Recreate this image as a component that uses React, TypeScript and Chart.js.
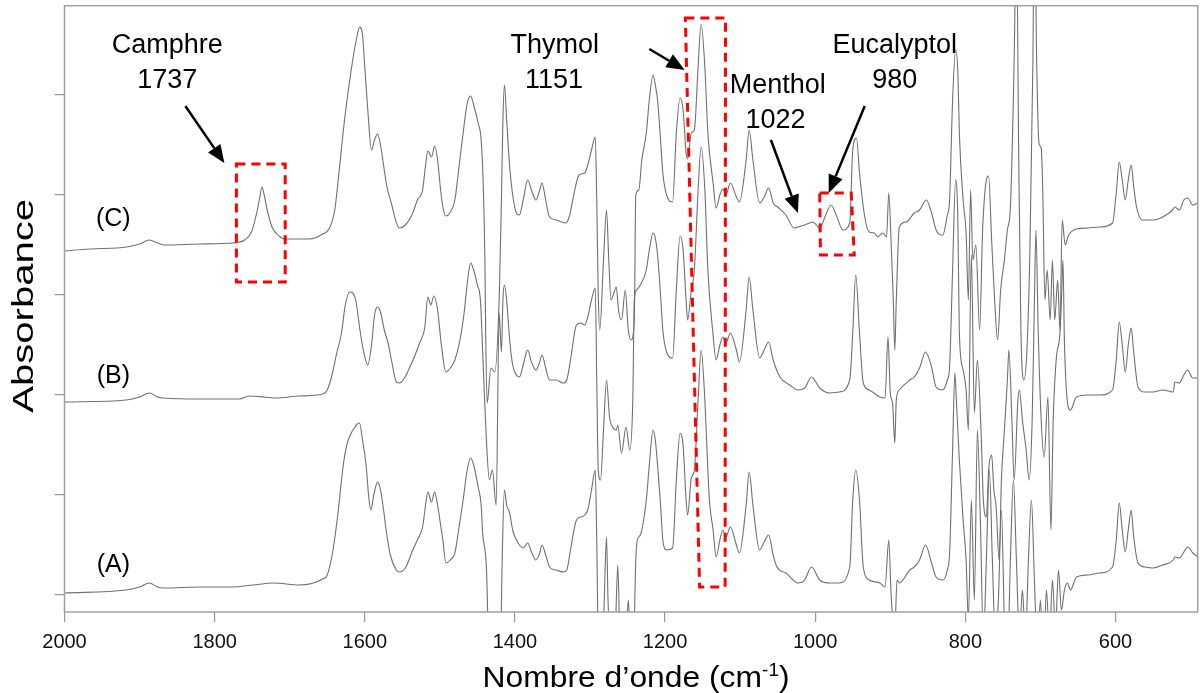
import React, { useEffect, useRef } from "react";
import { Chart, registerables } from "chart.js";

Chart.register(...registerables);

const FONT = '"Liberation Sans", Arial, Helvetica, sans-serif';

// Wavenumber axis (cm-1) tick values
const xTickValues = [2000, 1800, 1600, 1400, 1200, 1000, 800, 600];
// Absorbance axis tick positions (no labels in the reference)
const yTickValues = [0, 1, 2, 3, 4, 5];

// Spectrum (A): [wavenumber, absorbance (a.u., stacked)]
const spectrumA: [number, number][] = [
  [2000, 0.02], [1918, 0.05], [1900, 0.08], [1887, 0.12], [1876, 0.08], [1869, 0.07], [1820, 0.08], [1776, 0.08],
  [1749, 0.1], [1722, 0.12], [1687, 0.1], [1656, 0.16], [1650, 0.2], [1643, 0.42], [1636, 0.8], [1629, 1.28],
  [1624, 1.5], [1618, 1.62], [1614, 1.67], [1610, 1.71], [1607, 1.72], [1603, 1.55], [1598, 1.28], [1595, 1.0],
  [1592, 0.85], [1588, 1.0], [1583, 1.13], [1579, 1.05], [1575, 0.85], [1571, 0.62], [1566, 0.4], [1558, 0.25],
  [1554, 0.23], [1546, 0.27], [1536, 0.45], [1530, 0.55], [1523, 0.68], [1519, 0.9], [1516, 1.03], [1511, 0.93],
  [1507, 1.03], [1503, 0.9], [1499, 0.7], [1496, 0.55], [1492, 0.32], [1486, 0.35], [1480, 0.42], [1475, 0.65],
  [1469, 0.95], [1464, 1.23], [1459, 1.37], [1455, 1.3], [1449, 1.08], [1445, 0.9], [1443, 0.62], [1438, 0.28],
  [1435, -0.45], [1427, -0.65], [1419, -0.45], [1417, 0.35], [1414, 1.05], [1411, 0.9], [1407, 0.82], [1403, 0.65],
  [1398, 0.55], [1394, 0.5], [1389, 0.47], [1383, 0.52], [1378, 0.43], [1372, 0.35], [1367, 0.42], [1364, 0.5],
  [1359, 0.4], [1354, 0.28], [1345, 0.25], [1336, 0.23], [1331, 0.25], [1326, 0.45], [1318, 0.75], [1312, 0.78],
  [1307, 0.8], [1303, 0.85], [1298, 1.05], [1293, 1.25], [1291, 0.55], [1289, -0.45], [1283, -0.55], [1281, -0.05],
  [1278, 0.58], [1276, -0.05], [1273, -0.45], [1267, -0.45], [1263, 0.3], [1260, -0.45], [1253, -0.55], [1249, -0.05],
  [1246, -0.45], [1242, -0.45], [1239, 0.35], [1237, 0.55], [1233, 0.6], [1225, 0.95], [1221, 1.3], [1216, 1.65],
  [1213, 1.55], [1210, 1.3], [1206, 0.9], [1203, 0.55], [1198, 0.45], [1190, 0.47], [1185, 1.15], [1180, 1.62],
  [1176, 1.5], [1172, 0.95], [1170, 0.8], [1165, 1.17], [1161, 1.25], [1156, 1.95], [1152, 2.45], [1147, 1.95],
  [1143, 1.25], [1141, 0.95], [1136, 0.65], [1132, 0.38], [1127, 0.55], [1123, 0.65], [1119, 0.58], [1113, 0.68],
  [1105, 0.5], [1101, 0.42], [1092, 0.9], [1088, 1.23], [1083, 0.9], [1074, 0.45], [1068, 0.53], [1062, 0.6],
  [1056, 0.4], [1051, 0.28], [1039, 0.22], [1023, 0.12], [1014, 0.15], [1005, 0.28], [994, 0.15], [981, 0.12],
  [968, 0.12], [954, 0.28], [950, 0.95], [946, 1.25], [941, 0.95], [936, 0.28], [928, 0.15], [914, 0.12],
  [907, 0.08], [902, 0.55], [899, 0.02], [896, -0.3], [894, -0.35], [891, 0.15], [888, 0.12], [874, 0.25],
  [868, 0.28], [861, 0.35], [853, 0.5], [845, 0.32], [839, 0.18], [830, 0.15], [824, 0.25], [821, 0.42],
  [817, 1.45], [814, 2.22], [812, 1.95], [808, 1.35], [803, 0.75], [799, 0.35], [796, -0.25], [792, 0.95],
  [788, -0.05], [784, 1.65], [780, 0.75], [776, -0.45], [772, 0.35], [768, 1.25], [764, 0.35], [760, -0.45],
  [756, -0.05], [752, 0.85], [748, -0.25], [744, -0.65], [740, 0.35], [736, 1.15], [732, 0.35], [728, -0.45],
  [724, 0.05], [720, -0.45], [716, 0.35], [712, 0.95], [708, 0.15], [704, -0.55], [700, -0.05], [696, -0.65],
  [692, 0.05], [688, -0.45], [684, 0.15], [680, -0.35], [676, 0.25], [672, -0.15], [668, 0.05], [664, 0.12],
  [660, 0.05], [652, 0.18], [637, 0.2], [621, 0.22], [604, 0.28], [599, 0.55], [595, 0.92], [591, 0.65],
  [587, 0.43], [583, 0.65], [579, 0.85], [576, 0.6], [570, 0.32], [561, 0.28], [550, 0.27], [537, 0.3],
  [523, 0.35], [521, 0.38], [515, 0.37], [509, 0.43], [504, 0.48], [497, 0.42], [490, 0.38],
];

// Spectrum (B)
const spectrumB: [number, number][] = [
  [2000, 1.93], [1918, 1.95], [1900, 1.98], [1887, 2.02], [1876, 1.98], [1869, 1.97], [1820, 1.96], [1767, 1.96],
  [1754, 1.99], [1734, 1.98], [1718, 1.97], [1687, 1.99], [1656, 2.01], [1650, 2.05], [1643, 2.22], [1638, 2.4],
  [1631, 2.62], [1626, 2.9], [1620, 3.03], [1616, 3.02], [1612, 2.95], [1607, 2.68], [1602, 2.45], [1596, 2.3],
  [1591, 2.5], [1587, 2.8], [1583, 2.88], [1579, 2.83], [1574, 2.65], [1569, 2.52], [1564, 2.33], [1558, 2.13],
  [1554, 2.12], [1547, 2.17], [1540, 2.28], [1534, 2.38], [1527, 2.52], [1520, 2.68], [1516, 2.98], [1512, 2.9],
  [1508, 2.99], [1503, 2.85], [1498, 2.5], [1492, 2.23], [1486, 2.27], [1480, 2.35], [1474, 2.52], [1468, 2.8],
  [1463, 3.15], [1459, 3.32], [1455, 3.25], [1450, 3.1], [1446, 2.95], [1442, 2.25], [1438, 1.55], [1434, 1.15],
  [1430, 1.25], [1425, 0.9], [1421, 2.82], [1418, 2.43], [1416, 2.95], [1414, 3.1], [1411, 2.95], [1407, 2.55],
  [1403, 2.3], [1398, 2.2], [1394, 2.18], [1389, 2.3], [1385, 2.42], [1383, 2.45], [1378, 2.33], [1372, 2.25],
  [1367, 2.33], [1364, 2.4], [1359, 2.27], [1354, 2.15], [1345, 2.15], [1336, 2.12], [1331, 2.15], [1326, 2.35],
  [1318, 2.7], [1312, 2.72], [1307, 2.7], [1303, 2.78], [1298, 2.95], [1293, 3.07], [1291, 2.15], [1289, 1.25],
  [1286, 1.15], [1282, 1.65], [1278, 2.15], [1274, 1.78], [1270, 1.68], [1265, 1.65], [1263, 1.7], [1258, 1.42],
  [1252, 1.68], [1247, 1.45], [1243, 1.95], [1241, 2.95], [1238, 3.05], [1233, 3.1], [1225, 3.25], [1221, 3.45],
  [1216, 3.62], [1213, 3.57], [1210, 3.4], [1206, 3.0], [1203, 2.65], [1198, 2.43], [1190, 2.37], [1185, 3.05],
  [1180, 3.59], [1176, 3.45], [1172, 2.95], [1170, 2.75], [1165, 3.05], [1161, 3.25], [1156, 4.05], [1152, 4.48],
  [1147, 4.05], [1143, 3.25], [1136, 2.6], [1132, 2.35], [1127, 2.5], [1123, 2.58], [1119, 2.52], [1113, 2.62],
  [1105, 2.45], [1101, 2.33], [1092, 2.85], [1088, 3.18], [1083, 2.85], [1074, 2.37], [1068, 2.45], [1062, 2.53],
  [1056, 2.35], [1047, 2.18], [1034, 2.1], [1023, 2.05], [1014, 2.07], [1005, 2.18], [994, 2.07], [981, 2.02],
  [968, 2.03], [954, 2.15], [950, 2.62], [946, 3.2], [941, 2.62], [936, 2.12], [928, 2.05], [914, 1.98],
  [907, 1.97], [903, 2.58], [900, 2.02], [897, 1.92], [894, 1.52], [892, 1.95], [888, 2.05], [874, 2.15],
  [868, 2.18], [861, 2.27], [853, 2.43], [845, 2.28], [839, 2.08], [830, 2.05], [824, 2.15], [821, 2.28],
  [817, 3.25], [813, 4.15], [810, 3.75], [808, 2.62], [803, 2.25], [799, 2.05], [796, 1.65], [792, 3.4],
  [788, 1.82], [784, 2.35], [779, 1.62], [776, 0.95], [772, 0.78], [769, 1.25], [765, 1.4], [762, 1.05],
  [759, 0.88], [755, 0.35], [752, 1.15], [748, 1.65], [744, 2.15], [742, 2.45], [738, 1.75], [735, 1.15],
  [730, 1.95], [728, 2.05], [724, 1.75], [719, 1.45], [715, 1.15], [711, 1.75], [708, 2.95], [706, 3.65],
  [703, 2.65], [699, 1.75], [695, 1.38], [690, 1.98], [686, 0.65], [683, 1.75], [679, 2.35], [674, 2.62],
  [672, 2.95], [670, 3.35], [668, 2.52], [663, 1.88], [660, 1.85], [652, 1.98], [637, 2.0], [621, 2.0],
  [604, 2.05], [599, 2.35], [595, 2.73], [591, 2.5], [587, 2.23], [583, 2.5], [579, 2.67], [576, 2.45],
  [570, 2.08], [561, 2.03], [550, 2.03], [537, 2.05], [523, 2.03], [521, 2.13], [515, 2.12], [509, 2.2],
  [504, 2.25], [497, 2.17], [490, 2.17],
];

// Spectrum (C)
const spectrumC: [number, number][] = [
  [2000, 3.44], [1967, 3.46], [1917, 3.48], [1900, 3.51], [1887, 3.55], [1876, 3.52], [1867, 3.5], [1820, 3.51],
  [1776, 3.52], [1760, 3.55], [1751, 3.63], [1744, 3.82], [1740, 3.97], [1737, 4.08], [1734, 4.0], [1729, 3.82],
  [1723, 3.67], [1714, 3.59], [1707, 3.56], [1698, 3.56], [1674, 3.56], [1656, 3.61], [1647, 3.67], [1640, 3.85],
  [1634, 4.25], [1627, 4.75], [1620, 5.15], [1615, 5.4], [1610, 5.6], [1607, 5.68], [1603, 5.6], [1600, 5.28],
  [1596, 4.85], [1591, 4.45], [1587, 4.55], [1583, 4.61], [1579, 4.5], [1575, 4.3], [1571, 4.1], [1564, 3.9],
  [1559, 3.75], [1554, 3.67], [1546, 3.7], [1536, 3.82], [1530, 3.95], [1523, 4.05], [1519, 4.3], [1516, 4.44],
  [1511, 4.38], [1507, 4.49], [1503, 4.35], [1499, 4.05], [1496, 3.88], [1492, 3.79], [1486, 3.83], [1480, 3.95],
  [1475, 4.25], [1469, 4.62], [1464, 4.9], [1459, 4.99], [1455, 4.9], [1449, 4.72], [1445, 4.55], [1442, 4.05],
  [1440, 3.35], [1439, 2.65], [1437, 1.92], [1432, 2.27], [1427, 2.23], [1421, 2.95], [1418, 3.95], [1416, 4.75],
  [1414, 5.1], [1411, 4.75], [1407, 4.28], [1403, 4.0], [1398, 3.82], [1394, 3.8], [1389, 3.95], [1383, 4.15],
  [1378, 4.05], [1372, 3.95], [1367, 4.05], [1364, 4.12], [1359, 3.95], [1354, 3.78], [1345, 3.75], [1332, 3.72],
  [1327, 3.8], [1323, 3.95], [1316, 4.18], [1312, 4.21], [1307, 4.22], [1303, 4.3], [1298, 4.45], [1293, 4.58],
  [1291, 3.95], [1289, 3.0], [1287, 2.65], [1282, 3.35], [1278, 3.85], [1275, 3.35], [1272, 2.95], [1269, 3.0],
  [1265, 3.08], [1262, 2.85], [1258, 2.75], [1253, 3.05], [1249, 2.65], [1245, 2.55], [1241, 2.75], [1239, 4.0],
  [1235, 4.05], [1231, 4.35], [1225, 4.62], [1221, 4.95], [1216, 5.2], [1213, 5.1], [1210, 4.95], [1206, 4.55],
  [1203, 4.22], [1198, 4.0], [1190, 3.93], [1185, 4.62], [1180, 4.97], [1176, 4.85], [1172, 4.42], [1170, 4.36],
  [1165, 4.62], [1161, 4.65], [1156, 5.28], [1152, 5.71], [1147, 5.28], [1143, 4.62], [1136, 4.12], [1132, 3.87],
  [1127, 4.0], [1123, 4.06], [1119, 4.0], [1113, 4.12], [1105, 3.98], [1101, 3.93], [1092, 4.35], [1088, 4.65],
  [1083, 4.35], [1074, 3.92], [1068, 3.98], [1062, 4.07], [1056, 3.92], [1050, 3.88], [1039, 3.8], [1028, 3.67],
  [1023, 3.68], [1014, 3.7], [1003, 3.73], [994, 3.67], [986, 3.8], [979, 3.9], [972, 3.8], [963, 3.65],
  [954, 3.72], [950, 4.45], [945, 4.57], [941, 4.22], [934, 3.78], [928, 3.63], [921, 3.62], [917, 3.58],
  [910, 3.62], [905, 3.58], [902, 4.02], [899, 3.55], [896, 2.95], [894, 2.45], [892, 2.95], [888, 3.68],
  [879, 3.73], [868, 3.82], [861, 3.85], [852, 3.95], [845, 3.82], [839, 3.65], [830, 3.6], [824, 3.8],
  [821, 3.95], [817, 4.95], [813, 5.45], [810, 5.23], [808, 4.62], [803, 3.95], [799, 3.62], [796, 2.95],
  [793, 4.05], [790, 3.35], [786, 3.5], [781, 2.65], [777, 3.65], [772, 4.15], [769, 4.19], [765, 3.55],
  [761, 2.95], [757, 2.55], [753, 3.05], [748, 3.35], [744, 3.65], [740, 3.88], [735, 5.35], [732, 6.75],
  [729, 4.45], [726, 2.65], [722, 2.15], [718, 2.45], [714, 3.45], [710, 5.35], [708, 6.95], [705, 5.35],
  [702, 4.52], [699, 4.47], [697, 4.08], [694, 2.95], [691, 3.25], [687, 2.75], [684, 3.35], [681, 2.75],
  [677, 3.15], [674, 2.65], [671, 3.75], [667, 3.5], [663, 3.59], [652, 3.66], [637, 3.67], [621, 3.68],
  [604, 3.72], [599, 4.02], [595, 4.33], [591, 4.15], [587, 3.95], [583, 4.15], [579, 4.3], [576, 4.1],
  [572, 3.88], [564, 3.75], [550, 3.75], [537, 3.78], [524, 3.85], [521, 3.88], [515, 3.85], [509, 3.95],
  [504, 3.97], [497, 3.9], [490, 3.92],
];

const spectra = [spectrumA, spectrumB, spectrumC];
const spectrumNames = ["(A)", "(B)", "(C)"];

// Annotation geometry in data coordinates [wavenumber, absorbance]
const seriesLabelPos: [number, number][] = [[1935, 0.23], [1935, 2.12], [1935, 3.69]];
const compoundLabels: { text: string; at: [number, number] }[] = [
  { text: "Camphre", at: [1863, 5.42] },
  { text: "1737", at: [1863, 5.07] },
  { text: "Thymol", at: [1347, 5.42] },
  { text: "1151", at: [1348, 5.07] },
  { text: "Menthol", at: [1050, 5.02] },
  { text: "1022", at: [1053, 4.67] },
  { text: "Eucalyptol", at: [894, 5.42] },
  { text: "980", at: [894, 5.07] },
];
const arrows: [[number, number], [number, number]][] = [
  [[1839, 4.89], [1787, 4.32]],
  [[1221, 5.46], [1174, 5.25]],
  [[1059, 4.55], [1023, 3.82]],
  [[934, 4.89], [982, 4.02]],
];
const dashedBoxes: [number, number][][] = [
  [[1771, 4.31], [1706, 4.31], [1706, 3.13], [1771, 3.13]],
  [[1173, 5.77], [1119.5, 5.77], [1120, 0.08], [1154, 0.08]],
  [[994, 4.02], [952, 4.02], [948, 3.4], [993, 3.4]],
];

const annotationPlugin = {
  id: "spectrumAnnotations",
  afterDatasetsDraw(chart: any) {
    const { ctx, chartArea, scales } = chart;
    const X = (v: number) => scales.x.getPixelForValue(v);
    const Y = (v: number) => scales.y.getPixelForValue(v);
    ctx.save();
    // frame
    ctx.strokeStyle = "#a0a0a0";
    ctx.lineWidth = 1.5;
    ctx.setLineDash([]);
    ctx.strokeRect(chartArea.left, chartArea.top, chartArea.right - chartArea.left, chartArea.bottom - chartArea.top);

    // red dashed boxes
    ctx.strokeStyle = "#ff0000";
    ctx.lineWidth = 3;
    ctx.setLineDash([9, 6]);
    dashedBoxes.forEach((poly) => {
      ctx.beginPath();
      poly.forEach(([w, a], i) => (i === 0 ? ctx.moveTo(X(w), Y(a)) : ctx.lineTo(X(w), Y(a))));
      ctx.closePath();
      ctx.stroke();
    });
    ctx.setLineDash([]);

    // arrows
    ctx.strokeStyle = "#000";
    ctx.fillStyle = "#000";
    arrows.forEach(([from, to]) => {
      const x1 = X(from[0]), y1 = Y(from[1]), x2 = X(to[0]), y2 = Y(to[1]);
      const ang = Math.atan2(y2 - y1, x2 - x1);
      const L = 18, W = 7.5;
      const bx = x2 - L * Math.cos(ang), by = y2 - L * Math.sin(ang);
      ctx.lineWidth = 2.5;
      ctx.beginPath();
      ctx.moveTo(x1, y1);
      ctx.lineTo(bx, by);
      ctx.stroke();
      ctx.beginPath();
      ctx.moveTo(x2, y2);
      ctx.lineTo(bx + W * Math.sin(ang), by - W * Math.cos(ang));
      ctx.lineTo(bx - W * Math.sin(ang), by + W * Math.cos(ang));
      ctx.closePath();
      ctx.fill();
    });

    // texts
    ctx.textAlign = "center";
    ctx.textBaseline = "alphabetic";
    ctx.font = `27px ${FONT}`;
    compoundLabels.forEach(({ text, at }) => ctx.fillText(text, X(at[0]), Y(at[1])));
    ctx.font = `25px ${FONT}`;
    spectrumNames.forEach((name, i) => ctx.fillText(name, X(seriesLabelPos[i][0]), Y(seriesLabelPos[i][1])));
    ctx.restore();
  },
  afterDraw(chart: any) {
    const { ctx, chartArea } = chart;
    ctx.save();
    ctx.fillStyle = "#000";
    // y title
    ctx.translate(33, (chartArea.top + chartArea.bottom) / 2 - 3);
    ctx.rotate(-Math.PI / 2);
    ctx.font = `30px ${FONT}`;
    const yw = ctx.measureText("Absorbance").width;
    ctx.scale(214 / yw, 1);
    ctx.textAlign = "center";
    ctx.textBaseline = "alphabetic";
    ctx.fillText("Absorbance", 0, 0);
    ctx.restore();

    // x title with superscript
    ctx.save();
    ctx.fillStyle = "#000";
    ctx.textAlign = "left";
    ctx.textBaseline = "alphabetic";
    const main = "Nombre d\u2019onde (cm";
    const sup = "-1";
    const end = ")";
    ctx.font = `30px ${FONT}`;
    const w1 = ctx.measureText(main).width;
    const w3 = ctx.measureText(end).width;
    ctx.font = `18px ${FONT}`;
    const w2 = ctx.measureText(sup).width;
    const total = w1 + w2 + w3;
    const target = 307;
    const sx = target / total;
    const cx = (chartArea.left + chartArea.right) / 2 + 5;
    ctx.translate(cx - target / 2, 687);
    ctx.scale(sx, 1);
    ctx.font = `30px ${FONT}`;
    ctx.fillText(main, 0, 0);
    ctx.font = `18px ${FONT}`;
    ctx.fillText(sup, w1, -11);
    ctx.font = `30px ${FONT}`;
    ctx.fillText(end, w1 + w2, 0);
    ctx.restore();
  },
};

export default function App() {
  const canvasRef = useRef<HTMLCanvasElement | null>(null);

  useEffect(() => {
    const canvas = canvasRef.current;
    if (!canvas) return;
    const chart = new Chart(canvas, {
      type: "line",
      data: {
        datasets: spectra.map((s, i) => ({
          label: spectrumNames[i],
          data: s.map(([w, a]) => ({ x: w, y: a })),
          borderColor: "#707070",
          borderWidth: 1.1,
          pointRadius: 0,
          fill: false,
          cubicInterpolationMode: "monotone" as const,
          borderJoinStyle: "round" as const,
        })),
      },
      options: {
        animation: false,
        responsive: false,
        devicePixelRatio: 1,
        layout: { padding: { left: 0, top: 5.7, right: 2.3, bottom: 0 } },
        plugins: {
          legend: { display: false },
          tooltip: { enabled: false },
          title: { display: false },
        },
        scales: {
          x: {
            type: "linear",
            reverse: true,
            min: 490.5,
            max: 2000,
            afterBuildTicks: (s: any) => {
              s.ticks = xTickValues.map((v) => ({ value: v }));
            },
            afterFit: (s: any) => {
              s.height = 81;
            },
            ticks: {
              autoSkip: false,
              maxRotation: 0,
              padding: 8,
              color: "#111",
              font: { family: FONT, size: 20 },
              callback: (v: any) => String(v),
            },
            grid: { drawOnChartArea: false, drawTicks: true, tickLength: 10, color: "#999", lineWidth: 1.2 },
            border: { display: false },
          },
          y: {
            type: "linear",
            min: -0.17,
            max: 5.893,
            afterBuildTicks: (s: any) => {
              s.ticks = yTickValues.map((v) => ({ value: v }));
            },
            afterFit: (s: any) => {
              s.width = 64.5;
            },
            ticks: { display: false },
            grid: { drawOnChartArea: false, drawTicks: true, tickLength: 10, color: "#999", lineWidth: 1.2 },
            border: { display: false },
          },
        },
      },
      plugins: [annotationPlugin],
    } as any);
    return () => chart.destroy();
  }, []);

  return (
    <div style={{ position: "absolute", left: 0, top: 0, width: 1200, height: 693, background: "#fff" }}>
      <canvas ref={canvasRef} width={1200} height={693} style={{ display: "block", width: 1200, height: 693 }} />
    </div>
  );
}
